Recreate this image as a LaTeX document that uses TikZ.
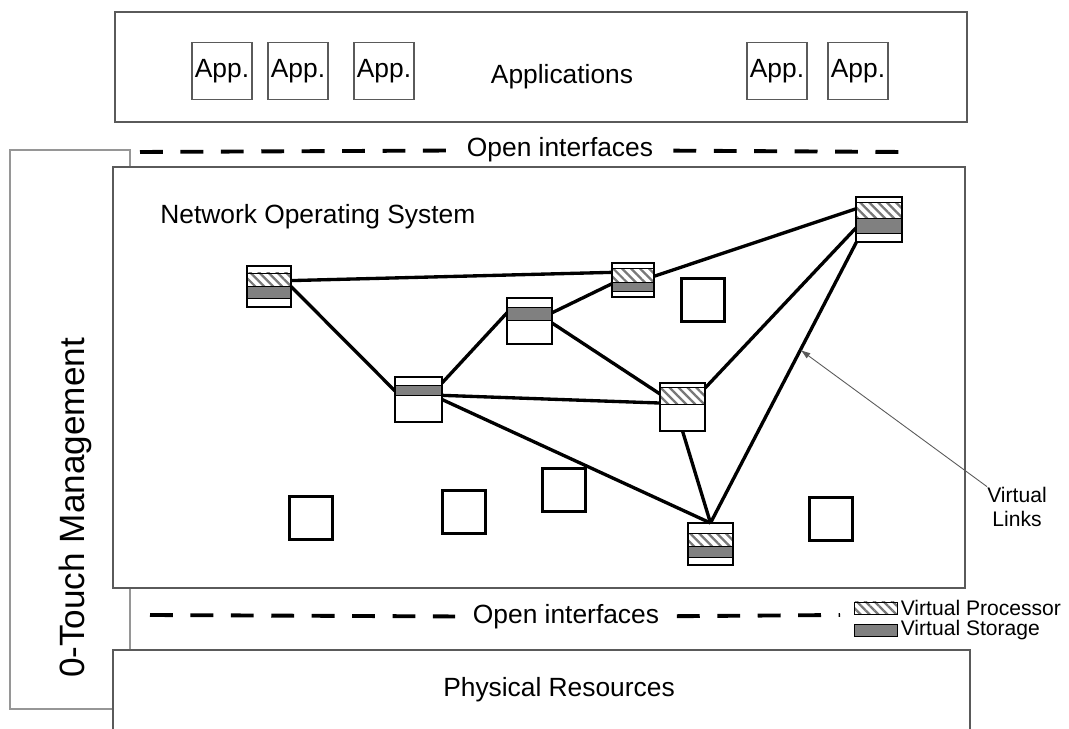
\documentclass[tikz,border=0pt]{standalone}
\usepackage{fontspec}
\setmainfont{Liberation Sans}
\usepackage{tikz}
\usetikzlibrary{arrows.meta, positioning, calc, patterns.meta}
\definecolor{framegray}{RGB}{90, 90, 90}
\definecolor{mgmtgray}{RGB}{150, 150, 150}
\definecolor{storegray}{RGB}{128, 128, 128}
\definecolor{hatchgray}{RGB}{120, 120, 120}
\newcommand{\procband}[3]{%
  \draw[line width=0.5pt, pattern={Lines[angle=-45, distance=3.6pt, line width=1.3pt]}, pattern color=hatchgray]
    ($(#1.north west)!#2!(#1.south west)$) rectangle ($(#1.north east)!#3!(#1.south east)$);
}
\newcommand{\storeband}[3]{%
  \draw[line width=0.5pt, fill=storegray]
    ($(#1.north west)!#2!(#1.south west)$) rectangle ($(#1.north east)!#3!(#1.south east)$);
}
\newcommand{\reframe}[1]{%
  \draw[line width=1.5pt] (#1.north west) rectangle (#1.south east);
}

\begin{document}
\begin{tikzpicture}[x=0.2mm, y=-0.2mm,
    frame/.style={draw=framegray, line width=0.7pt},
    appbox/.style={draw=framegray, line width=0.6pt, inner sep=0, minimum width=12mm, minimum height=11.4mm, font=\fontsize{15}{18}\selectfont},
    lbl/.style={font=\fontsize{15}{18}\selectfont, inner sep=0},
    small/.style={font=\fontsize{12}{14}\selectfont, inner sep=0},
    iface/.style={line width=2.2pt, dash pattern=on 13pt off 10pt},
    server/.style={draw, line width=1.5pt, fill=white, inner sep=0, outer sep=0},
    idlebox/.style={draw, line width=1.6pt, inner sep=0, minimum size=8.6mm},
    vlink/.style={line width=1.9pt}]
    \useasboundingbox[fill=white] (0,0) rectangle (1069,729);
    % Management column, behind the layers
    \draw[draw=mgmtgray, line width=0.7pt] (10,150) rectangle (130,709);
    \node[rotate=90, anchor=base, inner sep=0, font=\fontsize{20}{24}\selectfont] (mgmt) at (84,508) {0-Touch Management};
    % Applications layer
    \draw[frame] (115,12) rectangle (967,122);
    \node[appbox] (app1) at (222,71) {App.};
    \node[appbox] (app2) at (298,71) {App.};
    \node[appbox] (app3) at (384,71) {App.};
    \node[appbox] (app4) at (777,71) {App.};
    \node[appbox] (app5) at (858,71) {App.};
    \node[lbl] (apps) at (562,77) {Applications};
    % Upper interfaces
    \coordinate (iftl) at (140,152);
    \coordinate (iftr) at (905,152);
    \node[lbl, inner xsep=4mm] (ifttxt) at (560,150) {Open interfaces};
    \draw[iface] (iftl) -- (ifttxt);
    \draw[iface] (ifttxt) -- (iftr);
    % Network operating system
    \draw[frame, fill=white] (113,167) rectangle (965,588);
    \node[lbl, anchor=west] (nos) at (160,217) {Network Operating System};
    % Lower interfaces
    \coordinate (ifbl) at (150,615);
    \coordinate (ifbr) at (840,615);
    \node[lbl, inner xsep=3.5mm] (ifbtxt) at (566,617) {Open interfaces};
    \draw[iface] (ifbl) -- (ifbtxt);
    \draw[iface] (ifbtxt) -- (ifbr);
    % Physical layer
    \draw[frame, fill=white] (113,650) rectangle (970,740);
    \node[lbl] (phys) at (559,690) {Physical Resources};
    % Idle resources
    \node[idlebox] (q1) at (703,300) {};
    \node[idlebox] (q2) at (311,518) {};
    \node[idlebox] (q3) at (464,512) {};
    \node[idlebox] (q4) at (564,490) {};
    \node[idlebox] (q5) at (831,519) {};
    % Virtual nodes
    \node[server, minimum width=8.8mm, minimum height=8.2mm] (s1) at (269,286.5) {};
    \node[server, minimum width=9.4mm, minimum height=9mm] (s2) at (418.5,399.5) {};
    \node[server, minimum width=8.4mm, minimum height=6.8mm] (s3) at (633,280) {};
    \node[server, minimum width=9.2mm, minimum height=9mm] (s4) at (879,219.5) {};
    \node[server, minimum width=9mm, minimum height=9.2mm] (s5) at (529.5,321) {};
    \node[server, minimum width=9mm, minimum height=9.6mm] (s6) at (682.5,407) {};
    \node[server, minimum width=9mm, minimum height=8.4mm] (s7) at (710.5,544) {};
    % Virtual links
    \draw[vlink] (s1.15) -- (s3.160);
    \draw[vlink] (s1.east) -- (s2.160);
    \draw[vlink] (s2.35) -- (s5.160);
    \draw[vlink] (s2.10) -- (s6.170);
    \draw[vlink] (s2.east) -- (s7.north);
    \draw[vlink] (s5.20) -- (s3.190);
    \draw[vlink] (s5.355) -- (s6.150);
    \draw[vlink] (s3.10) -- (s4.155);
    \draw[vlink] (s6.40) -- (s4.200);
    \draw[vlink] (s6.south) -- (s7.north);
    \draw[vlink] (s7.north) -- (s4.225) coordinate[pos=0.616] (vl);
    % Bands: processor and storage
    \procband{s1}{0.17}{0.51}
    \storeband{s1}{0.51}{0.78}
    \storeband{s2}{0.18}{0.40}
    \procband{s3}{0.15}{0.56}
    \storeband{s3}{0.56}{0.85}
    \procband{s4}{0.13}{0.47}
    \storeband{s4}{0.47}{0.80}
    \storeband{s5}{0.20}{0.48}
    \procband{s6}{0.10}{0.44}
    \procband{s7}{0.24}{0.57}
    \storeband{s7}{0.57}{0.81}
    \foreach \s in {s1,s2,s3,s4,s5,s6,s7} {\reframe{\s}}
    % Callout
    \node[small, align=center] (vlinks) at (1017,507) {Virtual\\Links};
    \draw[-{Latex[length=2mm, width=1.3mm]}, line width=0.5pt, framegray] (vlinks.north west) -- (vl);
    % Legend
    \node[draw, line width=0.5pt, inner sep=0, minimum width=8.6mm, minimum height=2.4mm,
      pattern={Lines[angle=-45, distance=3.6pt, line width=1.3pt]}, pattern color=hatchgray] (lgproc) at (875.5,608) {};
    \node[draw, line width=0.5pt, inner sep=0, minimum width=8.6mm, minimum height=2.4mm, fill=storegray] (lgstore) at (875.5,630) {};
    \node[small, right=0.6mm of lgproc] (lgproctxt) {Virtual Processor};
    \node[small, right=0.6mm of lgstore] (lgstoretxt) {Virtual Storage};
\end{tikzpicture}
\end{document}
